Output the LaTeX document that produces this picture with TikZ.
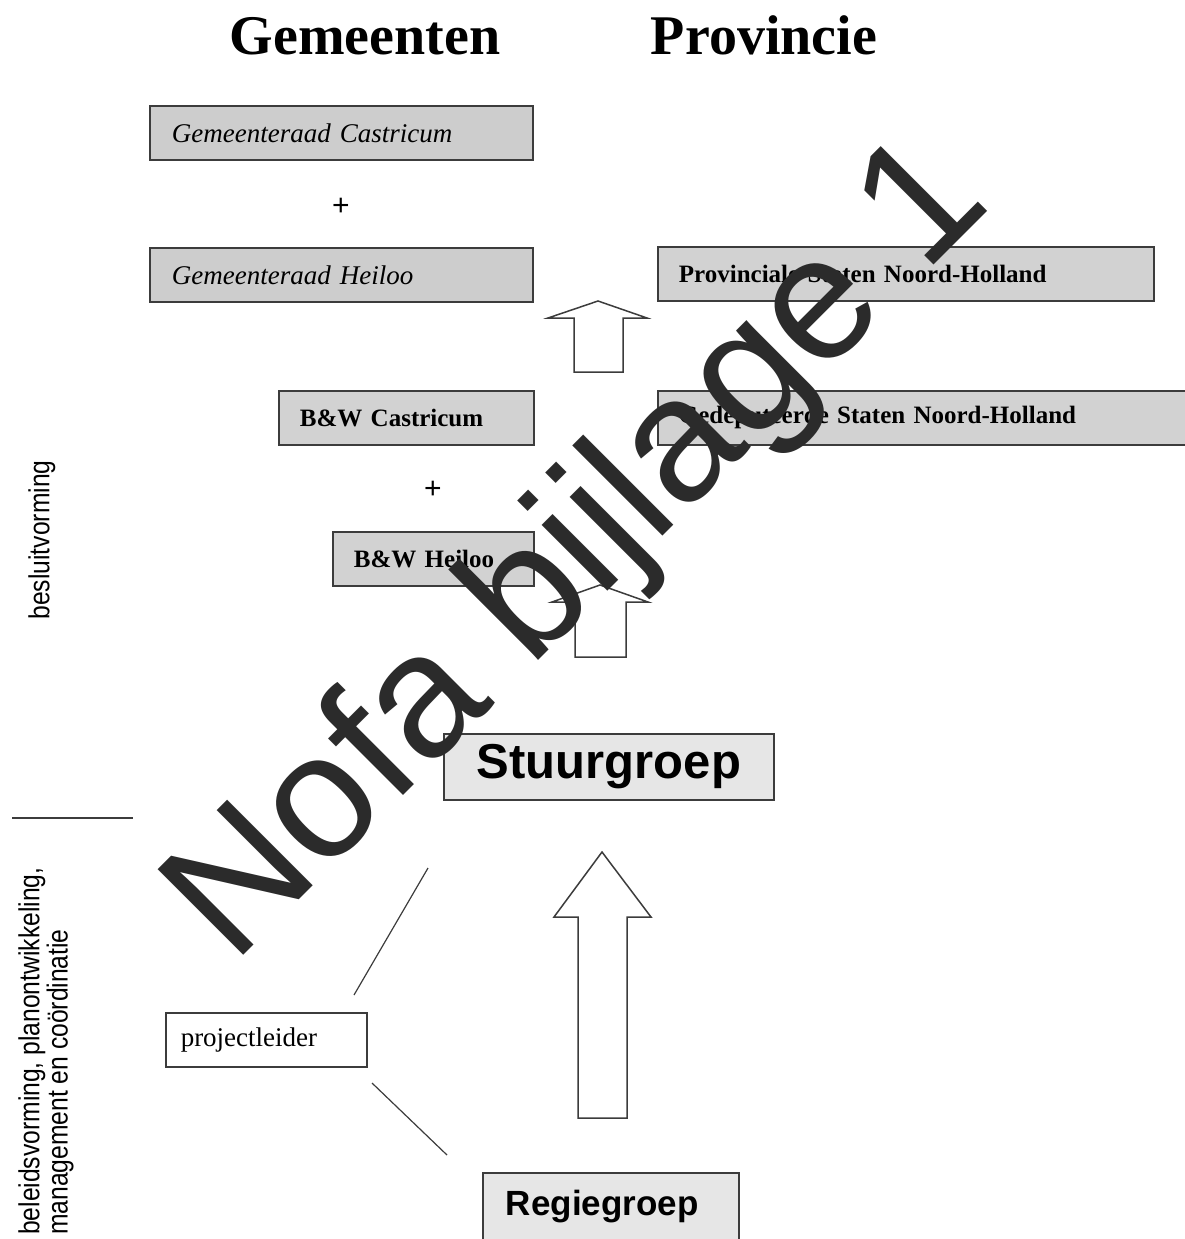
\documentclass[tikz,border=0pt]{standalone}
\usepackage{fontspec}
\setmainfont{Liberation Serif}
\newfontfamily\arialfont{Liberation Sans}
\newfontfamily\narrowfont[FakeStretch=0.85]{Liberation Sans}
\usepackage{tikz}
\usetikzlibrary{positioning}

\definecolor{boxgray}{HTML}{D2D2D2}
\definecolor{darkgray}{HTML}{CDCDCD}
\definecolor{lightgray}{HTML}{E6E6E6}
\definecolor{boxline}{HTML}{3C3C3C}
\definecolor{wmgray}{HTML}{2B2B2B}

\begin{document}
\begin{tikzpicture}[x=1pt, y=-1pt,
    grbox/.style={rectangle, draw=boxline, fill=boxgray, line width=1.8pt, anchor=north west,
        inner xsep=21pt, inner ysep=0pt, minimum height=54pt, align=left,
        font=\fontsize{25}{25}\selectfont\bfseries},
    raadbox/.style={grbox, fill=darkgray, inner xsep=22pt, font=\fontsize{27}{27}\selectfont\itshape},
    groepbox/.style={rectangle, draw=boxline, fill=lightgray, line width=1.8pt, anchor=north west},
    blockarrow/.style={draw=boxline, fill=white, line width=1.5pt, line join=miter},
    sidetext/.style={rotate=90, inner sep=0pt, font=\narrowfont\fontsize{29}{27}\selectfont}]
    \useasboundingbox (0,0) rectangle (1185,1239);
    \clip (0,0) rectangle (1185,1239);

    % Headings
    \node[anchor=base, font=\fontsize{56}{56}\selectfont\bfseries] (Gemeenten) at (365,55) {Gemeenten};
    \node[anchor=base, font=\fontsize{56}{56}\selectfont\bfseries] (Provincie) at (764,55) {Provincie};

    % Gemeenten (left column)
    \node[raadbox, text width=339pt] (RaadCastricum) at (149,105) {Gemeenteraad Castricum};
    \node[font=\arialfont\fontsize{30}{30}\selectfont] (PlusRaad) at (341,207) {+};
    \node[raadbox, text width=339pt] (RaadHeiloo) at (149,247) {Gemeenteraad Heiloo};
    \node[grbox, text width=213pt] (BWCastricum) at (278,390) {B\&W Castricum};
    \node[font=\arialfont\fontsize{30}{30}\selectfont] (PlusBW) at (433,490) {+};
    \node[grbox, text width=159pt] (BWHeiloo) at (332,531) {B\&W Heiloo};

    % Provincie (right column)
    \node[grbox, text width=454pt] (ProvStaten) at (657,246) {Provinciale Staten Noord-Holland};
    \node[grbox, text width=520pt] (GedStaten) at (657,390) {Gedeputeerde Staten Noord-Holland};

    % Stuurgroep and Regiegroep
    \node[groepbox, minimum width=330pt, minimum height=66pt,
        font=\arialfont\fontsize{49}{49}\selectfont\bfseries] (Stuurgroep) at (443,733) {Stuurgroep};
    \node[groepbox, text width=210pt, align=left, inner xsep=23pt, inner ysep=18pt,
        text height=25pt, text depth=40pt,
        font=\arialfont\fontsize{35}{35}\selectfont\bfseries] (Regiegroep) at (482,1172) {Regiegroep};
    \node[rectangle, draw=boxline, fill=white, line width=1.5pt, anchor=north west,
        minimum width=201pt, minimum height=54pt, text width=171pt, inner xsep=15pt, align=left,
        font=\fontsize{27}{27}\selectfont] (Projectleider) at (165,1012) {projectleider};

    % Block arrows
    \draw[blockarrow] (574,372) -- (574,318) -- (548,318) -- (598,301) -- (647,318) -- (623,318) -- (623,372) -- cycle;
    \draw[blockarrow] (575,657) -- (575,602) -- (552,602) -- (600,585) -- (648,602) -- (626,602) -- (626,657) -- cycle;
    \draw[blockarrow] (578,1118) -- (578,917) -- (554,917) -- (602,852) -- (651,917) -- (627,917) -- (627,1118) -- cycle;

    % Lines round the projectleider
    \coordinate (LeiderTop) at (354,995);
    \coordinate (StuurLow) at (428,868);
    \coordinate (LeiderLow) at (372,1083);
    \coordinate (RegieTop) at (447,1155);
    \draw[boxline, line width=1.2pt] (LeiderTop) -- (StuurLow);
    \draw[boxline, line width=1.2pt] (LeiderLow) -- (RegieTop);

    % Side labels
    \node[sidetext] (Besluit) at (42,540) {besluitvorming};
    \coordinate (SepLeft) at (12,818);
    \coordinate (SepRight) at (133,818);
    \draw[boxline, line width=1.2pt] (SepLeft) -- (SepRight);
    \node[sidetext, anchor=west, align=left] (Beleid) at (46,1235) {beleidsvorming, planontwikkeling,\\management en co\"ordinatie};

    % Watermark
    \node[rotate=45, anchor=base west, inner sep=0pt, text=wmgray,
        font=\arialfont\fontsize{176}{176}\selectfont] (Watermerk) at (233,966) {Nofa bijlage 1};
\end{tikzpicture}
\end{document}
